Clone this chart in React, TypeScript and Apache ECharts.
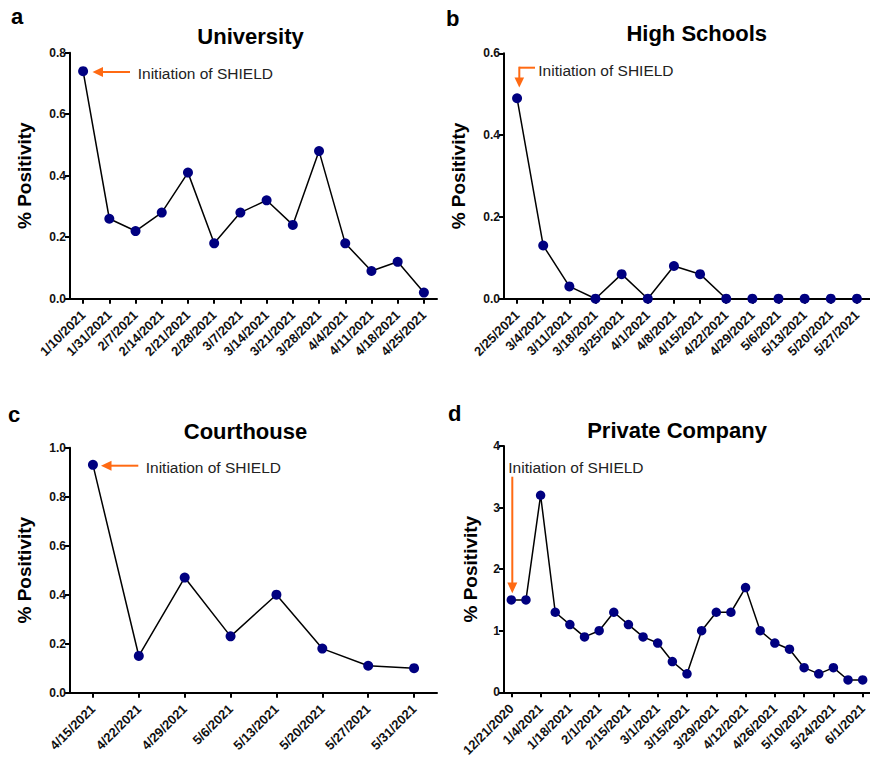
import React, { useEffect, useRef } from "react";
import * as echarts from "echarts";

const uniDates = ["1/10/2021", "1/31/2021", "2/7/2021", "2/14/2021", "2/21/2021", "2/28/2021", "3/7/2021", "3/14/2021", "3/21/2021", "3/28/2021", "4/4/2021", "4/11/2021", "4/18/2021", "4/25/2021"];
const uniValues = [0.74, 0.26, 0.22, 0.28, 0.41, 0.18, 0.28, 0.32, 0.24, 0.48, 0.18, 0.09, 0.12, 0.02];

const hsDates = ["2/25/2021", "3/4/2021", "3/11/2021", "3/18/2021", "3/25/2021", "4/1/2021", "4/8/2021", "4/15/2021", "4/22/2021", "4/29/2021", "5/6/2021", "5/13/2021", "5/20/2021", "5/27/2021"];
const hsValues = [0.49, 0.13, 0.03, 0, 0.06, 0, 0.08, 0.06, 0, 0, 0, 0, 0, 0];

const courtDates = ["4/15/2021", "4/22/2021", "4/29/2021", "5/6/2021", "5/13/2021", "5/20/2021", "5/27/2021", "5/31/2021"];
const courtValues = [0.93, 0.15, 0.47, 0.23, 0.4, 0.18, 0.11, 0.1];

const companyDates = ["12/21/2020", "12/28/2020", "1/4/2021", "1/11/2021", "1/18/2021", "1/25/2021", "2/1/2021", "2/8/2021", "2/15/2021", "2/22/2021", "3/1/2021", "3/8/2021", "3/15/2021", "3/22/2021", "3/29/2021", "4/5/2021", "4/12/2021", "4/19/2021", "4/26/2021", "5/3/2021", "5/10/2021", "5/17/2021", "5/24/2021", "5/28/2021", "6/1/2021"];
const companyValues = [1.5, 1.5, 3.2, 1.3, 1.1, 0.9, 1.0, 1.3, 1.1, 0.9, 0.8, 0.5, 0.3, 1.0, 1.3, 1.3, 1.7, 1.0, 0.8, 0.7, 0.4, 0.3, 0.4, 0.2, 0.2];

const panelTitles = ["University", "High Schools", "Courthouse", "Private Company"];
const panelLetters = ["a", "b", "c", "d"];
const yMax = [0.8, 0.6, 1.0, 4];
const yInterval = [0.2, 0.2, 0.2, 1];
const annotation = "Initiation of SHIELD";

const FONT = "'Liberation Sans', Arial, Helvetica, sans-serif";
const ORANGE = "#FF6A13";
const NAVY = "#000080";

export default function App() {
  const ref = useRef<HTMLDivElement>(null);

  useEffect(() => {
    if (!ref.current) return;
    const chart = echarts.init(ref.current, undefined, { renderer: "svg" });

    const grids = [
      { left: 70, top: 52.7, width: 367, height: 246 },
      { left: 504, top: 53.3, width: 366, height: 245.4 },
      { left: 70, top: 447.7, width: 367, height: 245 },
      { left: 504, top: 446, width: 366, height: 246.3 },
    ].map((g) => ({ ...g, containLabel: false, outerBoundsMode: "none" }));

    const cats = [uniDates, hsDates, courtDates, companyDates];
    const vals = [uniValues, hsValues, courtValues, companyValues];

    const xAxes = cats.map((c, i) => ({
      type: "category",
      gridIndex: i,
      data: c,
      boundaryGap: true,
      axisLine: { show: true, lineStyle: { color: "#000", width: 2 } },
      axisTick: {
        show: true,
        alignWithLabel: true,
        length: 5,
        interval: i === 3 ? 1 : 0,
        lineStyle: { color: "#000", width: 2 },
      },
      axisLabel: {
        interval: i === 3 ? 1 : 0,
        rotate: 45,
        margin: 14,
        color: "#111",
        fontFamily: FONT,
        fontWeight: "bold",
        fontSize: 13,
      },
      splitLine: { show: false },
    }));

    const yAxes = yMax.map((m, i) => ({
      type: "value",
      gridIndex: i,
      min: 0,
      max: m,
      interval: yInterval[i],
      name: "% Positivity",
      nameLocation: "middle",
      nameGap: i === 3 ? 24 : 36,
      nameRotate: 90,
      nameTextStyle: { fontFamily: FONT, fontWeight: "bold", fontSize: 19, color: "#000" },
      axisLine: { show: true, lineStyle: { color: "#000", width: 2 } },
      axisTick: { show: true, length: 5, lineStyle: { color: "#000", width: 2 } },
      axisLabel: {
        margin: 4,
        color: "#111",
        fontFamily: FONT,
        fontWeight: "bold",
        fontSize: 12,
        formatter: (v: number) => (i === 3 ? String(v) : v.toFixed(1)),
      },
      splitLine: { show: false },
    }));

    const series = vals.map((v, i) => ({
      type: "line",
      xAxisIndex: i,
      yAxisIndex: i,
      data: v,
      clip: false,
      symbol: "circle",
      symbolSize: i === 3 ? 9.5 : 10,
      itemStyle: { color: NAVY },
      lineStyle: { color: "#000", width: 1.5 },
    }));

    const titlePos = [
      [250.5, 36.5],
      [696.7, 33.3],
      [245.5, 431.7],
      [677, 430],
    ];
    const letterPos = [
      [11, 16.7],
      [446, 18],
      [8, 414],
      [448, 413],
    ];

    const graphic: any[] = [];
    panelTitles.forEach((t, i) => {
      graphic.push({
        type: "text",
        x: titlePos[i][0],
        y: titlePos[i][1],
        style: {
          text: t,
          font: `bold 22px ${FONT}`,
          fill: "#000",
          align: "center",
          verticalAlign: "middle",
        },
      });
      graphic.push({
        type: "text",
        x: letterPos[i][0],
        y: letterPos[i][1],
        style: {
          text: panelLetters[i],
          font: `bold 22px ${FONT}`,
          fill: "#000",
          align: "left",
          verticalAlign: "middle",
        },
      });
    });

    const annText = (x: number, y: number) => ({
      type: "text",
      x,
      y,
      style: {
        text: annotation,
        font: `15.5px ${FONT}`,
        fill: "#222",
        align: "left",
        verticalAlign: "middle",
      },
    });
    const seg = (x1: number, y1: number, x2: number, y2: number) => ({
      type: "line",
      shape: { x1, y1, x2, y2 },
      style: { stroke: ORANGE, lineWidth: 2 },
    });
    const head = (pts: number[][]) => ({
      type: "polygon",
      shape: { points: pts },
      style: { fill: ORANGE },
    });

    // a: left-pointing arrow
    graphic.push(seg(130, 72, 102, 72));
    graphic.push(head([[92.5, 72], [103, 67], [103, 77]]));
    graphic.push(annText(137.7, 73.3));
    // b: bent arrow
    graphic.push(seg(535, 67.7, 519.3, 67.7));
    graphic.push(seg(519.3, 66.7, 519.3, 78));
    graphic.push(head([[519.3, 87.5], [514.5, 77.5], [524.1, 77.5]]));
    graphic.push(annText(538.3, 70));
    // c: left-pointing arrow
    graphic.push(seg(138.3, 465.7, 111, 465.7));
    graphic.push(head([[101, 465.7], [111.5, 460.7], [111.5, 470.7]]));
    graphic.push(annText(145.7, 467.3));
    // d: down arrow
    graphic.push(seg(512.3, 476.7, 512.3, 583));
    graphic.push(head([[512.3, 593.3], [507.3, 582.5], [517.3, 582.5]]));
    graphic.push(annText(508.3, 467.3));

    chart.setOption({
      animation: false,
      backgroundColor: "#fff",
      textStyle: { fontFamily: FONT },
      grid: grids,
      xAxis: xAxes,
      yAxis: yAxes,
      series,
      graphic,
    } as any);

    return () => chart.dispose();
  }, []);

  return (
    <div
      ref={ref}
      style={{ position: "fixed", left: 0, top: 0, width: 870, height: 758, background: "#fff" }}
    />
  );
}
